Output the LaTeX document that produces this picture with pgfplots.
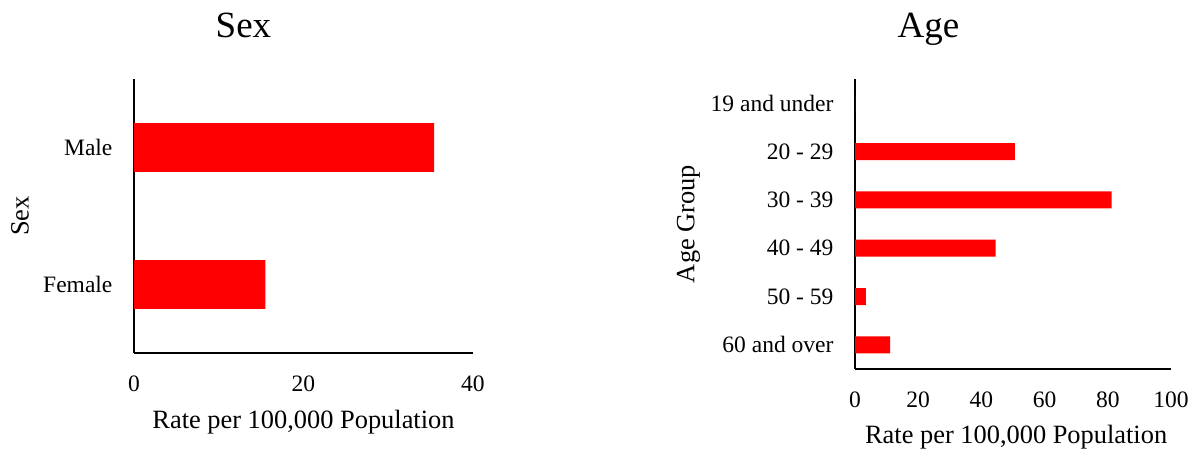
\documentclass[border=0pt]{standalone}
\usepackage{fontspec}
\setmainfont{Liberation Serif}
\usepackage{pgfplots}
\pgfplotsset{compat=1.18}
\begin{document}
\begin{tikzpicture}
\useasboundingbox (0,0) rectangle (599pt,-225.5pt);
\pgfplotsset{
  ratechart/.style={
    xbar, scale only axis, enlargelimits=false,
    axis lines=left, axis line style={-, line width=1pt, black},
    major tick length=0pt, xmin=0,
    /pgf/number format/assume math mode=true,
    tick label style={font=\fontsize{11.75}{14}\selectfont},
    xticklabel style={anchor=base, yshift=-19pt},
    yticklabel style={anchor=east, inner sep=0pt, xshift=-10.6pt},
    label style={font=\fontsize{13.2}{16}\selectfont},
    title style={font=\fontsize{18.5}{22}\selectfont, anchor=base, yshift=14.8pt},
    xlabel={Rate per 100,000 Population},
  }
}
% Sex
\begin{axis}[ratechart,
  at={(67pt,-176.5pt)}, anchor=south west,
  width=169.5pt, height=137pt,
  xmax=40, xtick={0,20,40},
  ymin=-0.5, ymax=1.5, ytick={0,1}, yticklabels={Female,Male},
  bar width=24.4pt,
  ylabel={Sex},
  xlabel style={at={(axis description cs:0.5,0)}, anchor=base, yshift=-37.6pt},
  ylabel style={at={(axis description cs:0,0.5)}, anchor=base, yshift=52.7pt},
  title={Sex}, title style={at={(axis description cs:0.323,1)}},
]
\addplot[fill=red, draw=none] coordinates {(15.5,0) (35.4,1)};
\end{axis}
% Age
\begin{axis}[ratechart,
  at={(427.5pt,-184.5pt)}, anchor=south west,
  width=158pt, height=145pt,
  xmax=100, xtick={0,20,40,60,80,100},
  ymin=-0.5, ymax=5.5, ytick={0,1,2,3,4,5},
  yticklabels={60 and over,50 - 59,40 - 49,30 - 39,20 - 29,19 and under},
  bar width=8.5pt,
  ylabel={Age Group},
  xlabel style={at={(axis description cs:0.51,0)}, anchor=base, yshift=-37pt},
  ylabel style={at={(axis description cs:0,0.5)}, anchor=base, yshift=80.3pt},
  title={Age}, title style={at={(axis description cs:0.2326,1)}},
]
\addplot[fill=red, draw=none] coordinates {(11.1,0) (3.4,1) (44.5,2) (81.2,3) (50.6,4) (0,5)};
\end{axis}
\end{tikzpicture}
\end{document}
